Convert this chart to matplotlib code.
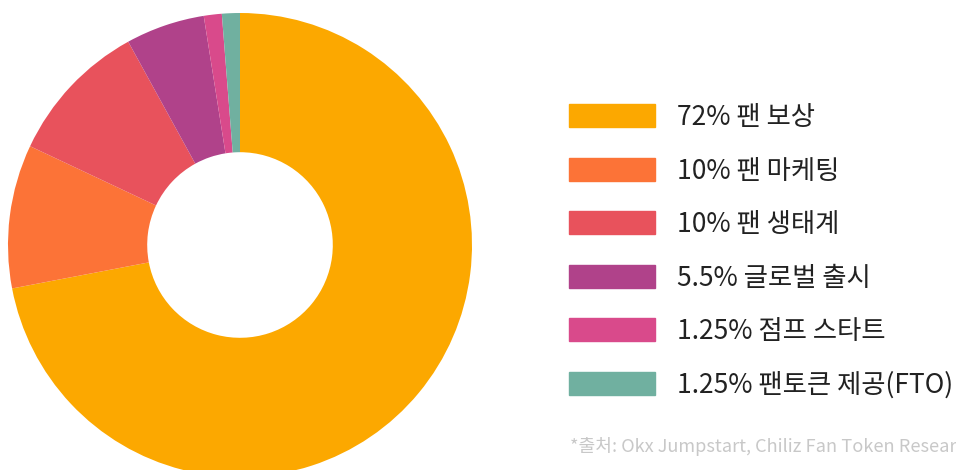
import matplotlib.pyplot as plt
from matplotlib.patches import Rectangle

plt.rcParams['font.family'] = ['Noto Sans CJK KR', 'DejaVu Sans']

labels = ['72% 팬 보상', '10% 팬 마케팅', '10% 팬 생태계', '5.5% 글로벌 출시',
          '1.25% 점프 스타트', '1.25% 팬토큰 제공(FTO)']
shares = [72, 10, 10, 5.5, 1.25, 1.25]
colors = ['#FCA800', '#FC7337', '#E8525C', '#B0428A', '#D94A8B', '#70B0A0']
source = '*출처: Okx Jumpstart, Chiliz Fan Token Research'

W, H = 956, 470
fig = plt.figure(figsize=(W / 100, H / 100), dpi=100)

# donut: centre (240, 245) px, radius 232 px
cx, cy, r = 240, 245, 232
ax = fig.add_axes([(cx - r) / W, (H - cy - r) / H, 2 * r / W, 2 * r / H])
ax.pie(shares, colors=colors, startangle=90, counterclock=False, radius=1,
       wedgeprops=dict(width=0.6, linewidth=0))
ax.set_xlim(-1, 1)
ax.set_ylim(-1, 1)
ax.set_aspect('equal')
ax.axis('off')

# legend drawn by hand
y0, step = 115.5, 53.6
for i, (lab, col) in enumerate(zip(labels, colors)):
    yc = y0 + i * step
    fig.patches.append(Rectangle((569 / W, 1 - (yc + 11.5) / H), 86 / W, 23 / H,
                                 transform=fig.transFigure, color=col))
    fig.text(677 / W, 1 - (yc + 2) / H, lab, fontsize=19, color='#222222',
             va='center', ha='left')

# source note runs off the right edge, as in the original
fig.text(570 / W, 1 - 446 / H, source, fontsize=13.1, color='#C8C8C8',
         va='center', ha='left')

fig.savefig('out.png', dpi=100)
